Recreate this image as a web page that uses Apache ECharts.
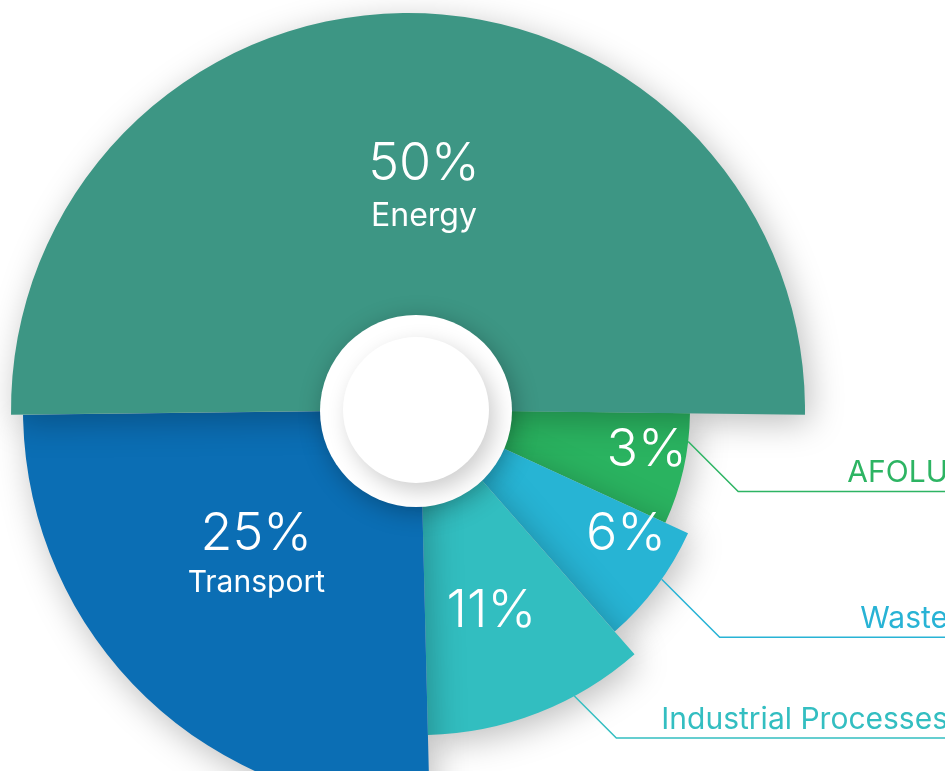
<!DOCTYPE html>
<html>
<head>
<meta charset="utf-8">
<script src="https://cdn.jsdelivr.net/npm/echarts@6/dist/echarts.min.js"></script>
<style>
  html, body { margin: 0; padding: 0; background: #ffffff; }
  #chart { width: 945px; height: 771px; }
</style>
</head>
<body>
<div id="chart"></div>
<script>
// Greenhouse-gas emissions by sector, share of total (%)
const sectors = ['Energy', 'AFOLU', 'Waste', 'Industrial Processes', 'Transport'];
const shares = [50, 3, 6, 11, 25];
// sectors that get a name callout on the right-hand side
const calloutSectors = ['AFOLU', 'Waste', 'Industrial Processes'];
// sectors whose name is written inside the slice, under the percentage
const namedInside = ['Energy', 'Transport'];

const W = 945;
const FONT = 'Inter, "Noto Sans", sans-serif';
const START_ANGLE = 180.7; // clockwise from the 9 o'clock position
const MIN_ANGLE = 24;      // floor so the thin slices stay readable

// per-sector drawing style: radius, centre, colours and label placement
const look = {
  'Energy':               { color: '#3d9684', center: [408, 410], radius: [39, 397], nudge: [16, 0],
                            pct: 52, name: 32, lh: [58, 46] },
  'Transport':            { color: '#0b6eb4', center: [420, 410], radius: [37, 397], nudge: [-11, -11],
                            pct: 52, name: 30, lh: [56, 42] },
  'Industrial Processes': { color: '#32bec0', center: [420, 410], radius: [88, 325], nudge: [-5, 6],
                            pct: 52, callout: { color: '#33bec1', shift: 7, drop: 42 } },
  'Waste':                { color: '#27b4d4', center: [420, 410], radius: [88, 295], nudge: [50, 8],
                            pct: 52, callout: { color: '#28b3d5', shift: 1.7, drop: 58 } },
  'AFOLU':                { color: '#2ab360', center: [420, 410], radius: [88, 270], nudge: [49, 0],
                            pct: 52, callout: { color: '#2db463', shift: 6, drop: 50 } }
};

// bottom-most slice first, so the energy half sits on top of the rest
const drawOrder = ['AFOLU', 'Waste', 'Industrial Processes', 'Transport', 'Energy'];

const CLEAR = 'rgba(0,0,0,0)';

function baseSeries(name) {
  const s = look[name];
  return {
    type: 'pie',
    center: s.center,
    radius: s.radius,
    startAngle: START_ANGLE,
    minAngle: MIN_ANGLE,
    clockwise: true,
    avoidLabelOverlap: false,
    silent: true,
    emphasis: { disabled: true },
    animation: false
  };
}

function sliceSeries(name) {
  const s = look[name];
  const idx = sectors.indexOf(name);
  const withName = namedInside.includes(name);
  return Object.assign(baseSeries(name), {
    data: sectors.map((n, i) => ({
      name: n,
      value: shares[i],
      itemStyle: n === name
        ? { color: s.color, borderWidth: 0, shadowBlur: 34, shadowColor: 'rgba(0,0,0,0.26)', shadowOffsetX: 5, shadowOffsetY: 8 }
        : { color: CLEAR, borderWidth: 0 },
      label: { show: n === name }
    })),
    label: {
      position: 'inside',
      color: '#ffffff',
      fontFamily: FONT,
      formatter: p => withName ? '{pct|' + p.value + '%}\n{nm|' + p.name + '}' : '{pct|' + p.value + '%}',
      rich: {
        pct: { fontSize: s.pct, fontWeight: 300, fontFamily: FONT, color: '#ffffff', lineHeight: s.lh ? s.lh[0] : s.pct },
        nm: { fontSize: s.name || 28, fontWeight: 400, fontFamily: FONT, color: '#ffffff', lineHeight: s.lh ? s.lh[1] : 36 }
      }
    },
    labelLine: { show: false },
    labelLayout: p => {
      if (p.dataIndex !== idx) return {};
      const r = p.labelRect;
      return {
        x: r.x + r.width / 2 + s.nudge[0],
        y: r.y + r.height / 2 + s.nudge[1],
        align: 'center',
        verticalAlign: 'middle'
      };
    }
  });
}

function calloutSeries(name) {
  const s = look[name];
  const c = s.callout;
  const idx = sectors.indexOf(name);
  const [cx, cy] = s.center;
  const rOuter = s.radius[1];
  return Object.assign(baseSeries(name), {
    z: 4,
    data: sectors.map((n, i) => ({
      name: n,
      value: shares[i],
      itemStyle: { color: CLEAR, borderWidth: 0 },
      label: { show: n === name },
      labelLine: { show: n === name }
    })),
    label: {
      position: 'outside',
      overflow: 'none',
      formatter: '{b}',
      color: c.color,
      fontFamily: FONT,
      fontSize: 30,
      fontWeight: 400
    },
    labelLine: { show: true, length: 10, length2: 10, lineStyle: { color: c.color, width: 1.5 } },
    labelLayout: p => {
      if (p.dataIndex !== idx || !p.labelLinePoints) return {};
      // slide the start of the leader a little along the slice rim
      const p0 = p.labelLinePoints[0];
      const a = Math.atan2(p0[1] - cy, p0[0] - cx) - c.shift * Math.PI / 180;
      const start = [cx + rOuter * Math.cos(a), cy + rOuter * Math.sin(a)];
      const lineY = start[1] + c.drop;
      return {
        x: W + 3,
        y: lineY - 3,
        align: 'right',
        verticalAlign: 'bottom',
        labelLinePoints: [start, [start[0] + c.drop, lineY], [W + 2, lineY]]
      };
    }
  });
}

const chart = echarts.init(document.getElementById('chart'), null, { renderer: 'canvas' });

const hub = [416, 410];

chart.setOption({
  backgroundColor: '#ffffff',
  animation: false,
  series: [
    ...drawOrder.map(sliceSeries),
    ...calloutSectors.map(calloutSeries)
  ],
  graphic: [
    {
      type: 'circle', z: 100,
      shape: { cx: hub[0], cy: hub[1] + 1, r: 96 },
      style: { fill: '#ffffff', shadowBlur: 24, shadowColor: 'rgba(0,0,0,0.28)', shadowOffsetX: 3, shadowOffsetY: 5 }
    },
    {
      type: 'circle', z: 101,
      shape: { cx: hub[0], cy: hub[1], r: 73 },
      style: { fill: '#ffffff', shadowBlur: 22, shadowColor: 'rgba(0,0,0,0.2)', shadowOffsetX: 6, shadowOffsetY: 8 }
    }
  ]
});
</script>
</body>
</html>
